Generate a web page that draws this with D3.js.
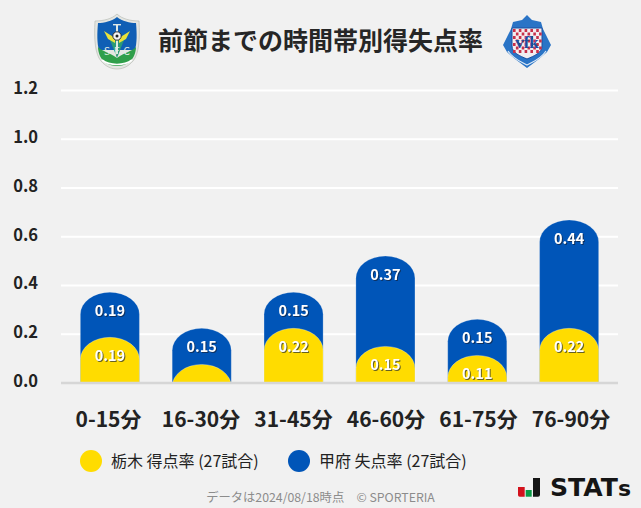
<!DOCTYPE html>
<html lang="ja">
<head>
<meta charset="utf-8">
<script src="https://cdn.jsdelivr.net/npm/d3@7"></script>
<style>
  html, body { margin: 0; padding: 0; background: #f1f1f1; }
  svg { display: block; font-family: "Noto Sans CJK JP", "Noto Sans", sans-serif; }
  .tick text { fill: #222; }
  .val { filter: drop-shadow(1px 1px 0 rgba(20, 30, 50, .65)); }
</style>
</head>
<body>
<div id="chart"></div>
<script>
'use strict';

const title = '前節までの時間帯別得失点率';
const periods = ['0-15分', '16-30分', '31-45分', '46-60分', '61-75分', '76-90分'];
const scored = [0.1852, 0.0741, 0.2222, 0.1481, 0.1111, 0.2222];
const conceded = [0.1852, 0.1481, 0.1481, 0.3704, 0.1481, 0.4444];
const yTicks = [0, 0.2, 0.4, 0.6, 0.8, 1.0, 1.2];
const legendLabels = ['栃木 得点率 (27試合)', '甲府 失点率 (27試合)'];
const footer = 'データは2024/08/18時点　© SPORTERIA';

const YELLOW = '#ffdc00';
const BLUE = '#0055b8';
const minLabelValue = 0.1;

const width = 641;
const height = 508;

const svg = d3.select('#chart').append('svg')
  .attr('width', width)
  .attr('height', height);

svg.append('rect')
  .attr('width', width)
  .attr('height', height)
  .attr('fill', '#f1f1f1');

const xScale = d3.scaleBand()
  .domain(periods)
  .range([64, 615])
  .paddingInner(0.357)
  .paddingOuter(0.178);
// the labels sit a little wider apart than the bars
const xLabelScale = d3.scalePoint()
  .domain(periods)
  .range([108, 570.5]);
const yScale = d3.scaleLinear()
  .domain([0, 1.2])
  .range([382.5, 90]);

// grid + labels
const yAxis = d3.axisLeft(yScale)
  .tickValues(yTicks)
  .tickFormat(d3.format('.1f'))
  .tickSize(-557)
  .tickPadding(23);
const gy = svg.append('g')
  .attr('transform', 'translate(61, 0)')
  .call(yAxis)
  .attr('font-family', null);
gy.select('.domain').remove();
gy.selectAll('.tick line')
  .attr('stroke', '#fff')
  .attr('stroke-width', 2)
  .attr('x1', 0)
  .attr('x2', 557);
gy.selectAll('.tick text')
  .attr('font-size', 16.5)
  .attr('font-weight', 700)
  .attr('y', -1.5);

svg.append('defs').append('clipPath')
  .attr('id', 'plot')
  .append('rect')
  .attr('x', 0)
  .attr('y', 0)
  .attr('width', width)
  .attr('height', yScale(0));

function dome(cat, top) {
  const x = xScale(cat);
  const w = xScale.bandwidth();
  const ry = 22;
  const yTop = yScale(top);
  return `M${x},${yScale(0) + 2}V${yTop + ry}A${w / 2},${ry} 0 0 1 ${x + w},${yTop + ry}V${yScale(0) + 2}Z`;
}

const bars = svg.append('g').attr('clip-path', 'url(#plot)');

bars.selectAll('.blue')
  .data(periods)
  .join('path')
  .attr('class', 'blue')
  .attr('fill', BLUE)
  .attr('stroke', '#fff')
  .attr('stroke-opacity', 0.35)
  .attr('stroke-width', 0.6)
  .attr('d', (d, i) => dome(d, scored[i] + conceded[i]));

bars.selectAll('.yellow')
  .data(periods)
  .join('path')
  .attr('class', 'yellow')
  .attr('fill', YELLOW)
  .attr('stroke', '#fff')
  .attr('stroke-opacity', 0.5)
  .attr('stroke-width', 0.6)
  .attr('d', (d, i) => dome(d, scored[i]));

// baseline
const xAxis = d3.axisBottom(xLabelScale)
  .tickSize(0)
  .tickPadding(30);
const gx = svg.append('g')
  .attr('transform', `translate(0, ${yScale(0)})`)
  .call(xAxis)
  .attr('font-family', null);
gx.select('.domain').remove();
gx.selectAll('.tick text')
  .attr('font-size', 21)
  .attr('font-weight', 700);
svg.append('line')
  .attr('x1', 61)
  .attr('x2', 618)
  .attr('y1', yScale(0) + 0.5)
  .attr('y2', yScale(0) + 0.5)
  .attr('stroke', '#d6d6d6')
  .attr('stroke-width', 2.5);

function valueLabels(values, tops) {
  svg.append('g').selectAll('text')
    .data(periods.filter((d, i) => values[i] >= minLabelValue))
    .join('text')
    .attr('class', 'val')
    .attr('x', d => xScale(d) + xScale.bandwidth() / 2)
    .attr('y', d => yScale(tops[periods.indexOf(d)]) + 19)
    .attr('dy', '.35em')
    .attr('text-anchor', 'middle')
    .attr('fill', '#fff')
    .attr('font-size', 14.5)
    .attr('font-weight', 700)
    .text(d => values[periods.indexOf(d)].toFixed(2));
}
valueLabels(scored, scored);
valueLabels(conceded, scored.map((v, i) => v + conceded[i]));

// title
svg.append('text')
  .attr('x', 320.5)
  .attr('y', 41)
  .attr('dy', '.36em')
  .attr('text-anchor', 'middle')
  .attr('font-size', 25)
  .attr('font-weight', 700)
  .attr('fill', '#262626')
  .text(title);

// legend
const legend = svg.append('g').selectAll('g')
  .data(legendLabels)
  .join('g')
  .attr('transform', (d, i) => `translate(${91 + i * 208}, 461)`);
legend.append('circle')
  .attr('r', 11)
  .attr('fill', (d, i) => [YELLOW, BLUE][i]);
legend.append('text')
  .attr('x', 20)
  .attr('dy', '.35em')
  .attr('font-size', 16)
  .attr('fill', '#222')
  .text(d => d);

// footer
svg.append('text')
  .attr('x', 320.5)
  .attr('y', 497.5)
  .attr('dy', '.35em')
  .attr('text-anchor', 'middle')
  .attr('font-size', 12.3)
  .attr('fill', '#8c8c8c')
  .text(footer);

// STATs mark
const statsMark = svg.append('g').attr('transform', 'translate(518, 478)');
statsMark.append('path').attr('d', 'M0,9h6.7v9.7h-5q-1.7,0-1.7,-1.7z').attr('fill', '#d3111c');
statsMark.append('rect').attr('x', 7.7).attr('y', 12).attr('width', 6).attr('height', 6.7).attr('fill', '#0a9a46');
statsMark.append('path').attr('d', 'M15,0h7v16.7q0,2-2,2h-5z').attr('fill', '#151515');
const statsText = statsMark.append('text')
  .attr('x', 32)
  .attr('y', 18)
  .attr('font-family', '"DejaVu Sans", sans-serif')
  .attr('font-size', 24)
  .attr('font-weight', 700)
  .attr('textLength', 81)
  .attr('lengthAdjust', 'spacingAndGlyphs')
  .attr('fill', '#151515')
  .text('STAT');
statsText.append('tspan')
  .attr('font-size', 21)
  .text('s');

// Tochigi crest
const crestA = svg.append('g').attr('transform', 'translate(95, 14)');
const shield = 'M22,0C27,5 36,7 44,7C45,25 44,40 38,47C33,53 27,55 22,55C17,55 11,53 6,47C0,40 -1,25 0,7C8,7 17,5 22,0Z';
crestA.append('path').attr('d', shield).attr('fill', '#e4e6e2').attr('stroke', '#b9bdb6').attr('stroke-width', 0.7);
crestA.append('path').attr('d', 'M22,3C27,7 35,9 41,9C42,20 42,29 40,36H4C2,29 2,20 3,9C9,9 17,7 22,3Z').attr('fill', '#0f5fb5');
crestA.append('path').attr('d', 'M3,33C8,38 14,38 22,44C30,38 36,38 41,33C41,39 38,46 33,49C27,53 17,53 11,49C6,46 3,39 3,33Z').attr('fill', '#2f9f4a');
crestA.append('path').attr('d', 'M15,26L22,44L29,26Z').attr('fill', '#2a9a78');
crestA.append('path').attr('d', 'M7,46C15,52 29,52 37,46').attr('fill', 'none').attr('stroke', '#fff').attr('stroke-width', 1.6);
crestA.append('path').attr('d', 'M9,17L20,24L20,29L13,25Z').attr('fill', '#e9e23a');
crestA.append('path').attr('d', 'M35,17L24,24L24,29L31,25Z').attr('fill', '#e9e23a');
crestA.append('rect').attr('x', 21).attr('y', 10).attr('width', 2).attr('height', 30).attr('fill', '#dfe9e6');
crestA.append('rect').attr('x', 18).attr('y', 10).attr('width', 8).attr('height', 1.4).attr('fill', '#dfe9e6');
crestA.append('circle').attr('cx', 22).attr('cy', 22).attr('r', 4.2).attr('fill', '#f4f4f4').attr('stroke', '#333').attr('stroke-width', 1);
crestA.append('circle').attr('cx', 22).attr('cy', 22).attr('r', 1.5).attr('fill', '#222');
crestA.append('text')
  .attr('x', 22).attr('y', 41).attr('text-anchor', 'middle')
  .attr('font-size', 10).attr('font-weight', 400)
  .attr('fill', '#e3efe8').attr('textLength', 26)
  .text('SFC');

// Kofu crest
const crestB = svg.append('g').attr('transform', 'translate(503, 15)');
crestB.append('path')
  .attr('d', 'M24,0L29,5L38,7L40,14L43,20L48,30L44,37L36,44L24,53L12,44L4,37L0,30L5,20L8,14L10,7L19,5Z')
  .attr('fill', '#2a74c6');
crestB.append('path')
  .attr('d', 'M9,13H39V31C39,38 31,41 24,44C17,41 9,38 9,31Z')
  .attr('fill', '#f3eef0').attr('stroke', '#1a4fa0').attr('stroke-width', 1);
const checks = crestB.append('g');
d3.range(7).forEach(r => d3.range(10).forEach(c => {
  if ((r + c) % 2 === 0 && 14 + r * 3.5 < 36) {
    checks.append('rect')
      .attr('x', 10 + c * 2.9).attr('y', 14 + r * 3.5)
      .attr('width', 2.6).attr('height', 3)
      .attr('fill', '#c8304a');
  }
}));
crestB.append('text')
  .attr('x', 24).attr('y', 33).attr('text-anchor', 'middle')
  .attr('font-family', '"Liberation Serif", serif')
  .attr('font-size', 17).attr('font-weight', 700)
  .attr('fill', '#1b4ea0')
  .text('vfk');
crestB.append('path')
  .attr('d', 'M5,36C10,44 18,47 24,50C30,47 38,44 43,36')
  .attr('fill', 'none').attr('stroke', '#dfeaf6').attr('stroke-width', 1.2);
</script>
</body>
</html>
